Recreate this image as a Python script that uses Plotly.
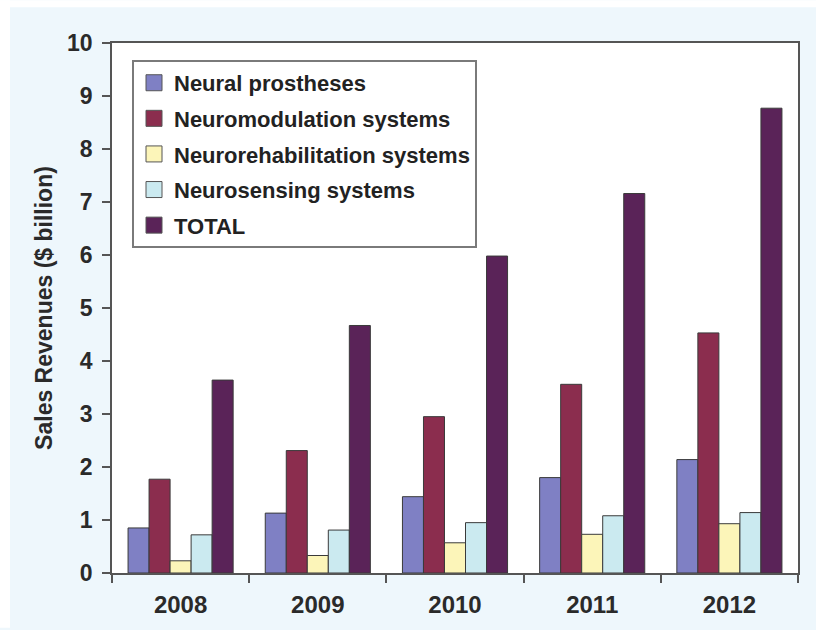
import plotly.graph_objects as go

# Annual sales revenues by neurotechnology segment ($ billion)
years = ["2008", "2009", "2010", "2011", "2012"]
neural_prostheses = [0.85, 1.13, 1.44, 1.80, 2.14]
neuromodulation = [1.77, 2.31, 2.95, 3.56, 4.53]
neurorehabilitation = [0.23, 0.33, 0.57, 0.73, 0.93]
neurosensing = [0.72, 0.81, 0.95, 1.08, 1.14]
total = [3.64, 4.67, 5.98, 7.16, 8.77]

series_names = [
    "Neural prostheses",
    "Neuromodulation systems",
    "Neurorehabilitation systems",
    "Neurosensing systems",
    "TOTAL",
]
series_values = [neural_prostheses, neuromodulation, neurorehabilitation, neurosensing, total]
series_colors = ["#7f80c4", "#8b2d4e", "#fcf5b9", "#cbeaf0", "#5a2358"]
y_ticks = list(range(0, 11))

EDGE = "#3a3a3a"
AXIS = "#555555"
PANEL = "#eef7fc"
SANS = "Liberation Sans, Arial, sans-serif"

fig = go.Figure()

for name, vals, col in zip(series_names, series_values, series_colors):
    fig.add_trace(go.Bar(
        x=years, y=vals, name=name,
        marker=dict(color=col, line=dict(color=EDGE, width=1)),
        showlegend=False,
    ))

# legend entries with larger square swatches, one group each for row spacing
for i, (name, col) in enumerate(zip(series_names, series_colors)):
    fig.add_trace(go.Scatter(
        x=[None], y=[None], mode="markers", name=name,
        legendgroup=f"g{i}",
        marker=dict(symbol="square", size=16, color=col, line=dict(color="#555555", width=1)),
        showlegend=True,
    ))

# plot area in pixels: x 112..798, y 43..575
L, R, T, B = 112, 18, 43, 55
W, H = 816, 630
pw, ph = W - L - R, H - T - B

def px_x(p):
    return (p - L) / pw

def px_y(p):
    return (H - B - p) / ph

# white strips outside the light-blue panel
fig.add_shape(type="rect", xref="paper", yref="paper",
              x0=px_x(0), x1=px_x(W), y0=px_y(7), y1=px_y(0),
              fillcolor="white", line=dict(width=0), layer="below")
fig.add_shape(type="rect", xref="paper", yref="paper",
              x0=px_x(0), x1=px_x(10), y0=px_y(H), y1=px_y(0),
              fillcolor="white", line=dict(width=0), layer="below")

fig.update_layout(
    width=W, height=H,
    margin=dict(l=L, r=R, t=T, b=B, pad=0),
    paper_bgcolor=PANEL,
    plot_bgcolor="white",
    barmode="group",
    bargap=0.234,
    bargroupgap=0,
    font=dict(family=SANS, color="#222222"),
    legend=dict(
        x=px_x(132), y=px_y(60), xanchor="left", yanchor="top",
        bgcolor="white", bordercolor="#7a7a7a", borderwidth=2,
        font=dict(family=SANS, size=22, color="#222222", weight="bold"),
        tracegroupgap=4,
    ),
    xaxis=dict(
        type="category",
        tickson="boundaries",
        ticks="outside", ticklen=8, tickwidth=1.5, tickcolor=AXIS,
        showline=True, linecolor=AXIS, linewidth=1.5, mirror=True,
        showgrid=False,
        tickfont=dict(family=SANS, size=24, color="#2a2a2a", weight="bold"),
        ticklabelstandoff=9,
    ),
    yaxis=dict(
        range=[0, 10], tickvals=y_ticks,
        ticks="outside", ticklen=8, tickwidth=1.5, tickcolor=AXIS,
        showline=True, linecolor=AXIS, linewidth=1.5, mirror=True,
        showgrid=False, zeroline=False,
        tickfont=dict(family=SANS, size=23, color="#2a2a2a", weight="bold"),
        ticklabelstandoff=5,
        title=dict(text="Sales Revenues ($ billion)",
                   font=dict(family=SANS, size=23, color="#2a2a2a", weight="bold"),
                   standoff=8),
    ),
)

fig.write_html("out.html")
